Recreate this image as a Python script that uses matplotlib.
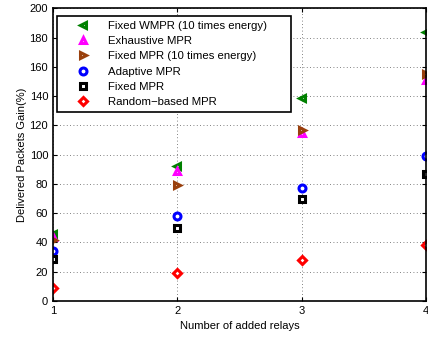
import matplotlib
matplotlib.use('Agg')
import matplotlib.pyplot as plt

relays = [1, 2, 3, 4]

wmpr_10x = [46, 92, 139, 184]
exhaustive = [44, 89, 115, 151]
fixed_10x = [42, 79, 117, 155]
adaptive = [34, 58, 77, 99]
fixed = [29, 50, 70, 87]
random_based = [9, 19, 28, 38]

series = [
    (wmpr_10x, 'Fixed WMPR (10 times energy)', '<', (0, 0.5, 0), 5),
    (exhaustive, 'Exhaustive MPR', '^', (1, 0, 1), 5),
    (fixed_10x, 'Fixed MPR (10 times energy)', '>', (0.6, 0.25, 0.05), 5),
    (adaptive, 'Adaptive MPR', 'o', (0, 0, 1), 5),
    (fixed, 'Fixed MPR', 's', (0, 0, 0), 5),
    (random_based, 'Random\u2212based MPR', 'D', (1, 0, 0), 4.5),
]

plt.rcParams['font.family'] = ['Liberation Sans', 'DejaVu Sans']
plt.rcParams['font.size'] = 8

fig = plt.figure(figsize=(4.28, 3.37), dpi=100)
ax = fig.add_axes([0.124, 0.107, 0.871, 0.868])

for vals, label, marker, color, ms in series:
    ax.plot(relays, vals, linestyle='none', marker=marker, markersize=ms,
            markerfacecolor='white', markeredgecolor=color,
            markeredgewidth=2.2, label=label)

ax.set_xlim(1, 4)
ax.set_ylim(0, 200)
ax.set_xticks(relays)
ax.set_yticks(range(0, 201, 20))
ax.grid(True, linestyle=(0, (1, 3)), color='0.35', linewidth=0.6)
ax.tick_params(direction='in', length=3, width=0.8, top=True, right=True)
for s in ax.spines.values():
    s.set_linewidth(1.2)

ax.set_xlabel('Number of added relays', labelpad=4)
ax.set_ylabel('Delivered Packets Gain(%)', labelpad=2)

leg = ax.legend(loc='upper left', bbox_to_anchor=(0.011, 0.974, 0.628, 0),
                mode='expand', fancybox=False,
                edgecolor='black', framealpha=1, borderpad=0.45,
                labelspacing=0.45, handletextpad=0.3, handlelength=3.7,
                borderaxespad=0, fontsize=8.2)
leg.get_frame().set_linewidth(1.2)

fig.savefig('out.png', dpi=100)
